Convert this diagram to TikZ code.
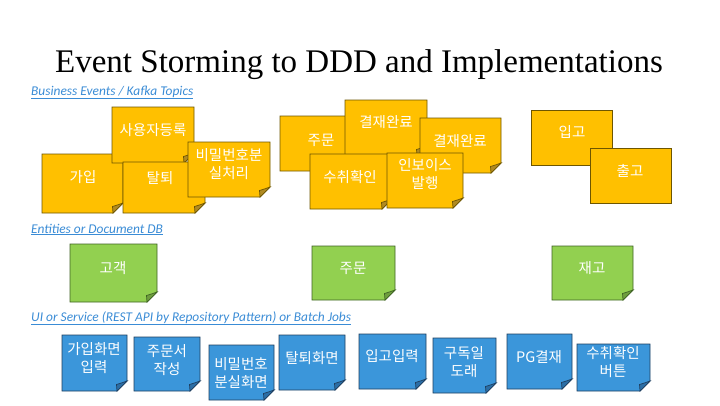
\documentclass[tikz,border=0pt]{standalone}
\usepackage{fontspec}
\setmainfont{Liberation Serif}
\newfontfamily\krfont{Noto Sans CJK KR}
\newfontfamily\labelfont{Carlito}
\definecolor{evfill}{HTML}{FFC000}
\definecolor{evline}{HTML}{6E5600}
\definecolor{evfold}{HTML}{B08A22}
\definecolor{entfill}{HTML}{92D050}
\definecolor{entline}{HTML}{3F6324}
\definecolor{entfold}{HTML}{6E9E3E}
\definecolor{uifill}{HTML}{3B96DA}
\definecolor{uiline}{HTML}{1F3F60}
\definecolor{uifold}{HTML}{2B6EA6}
\definecolor{linkblue}{HTML}{3A8CD6}

% sticky note with a folded bottom-right corner
% #1 name, #2 colour set, #3 left, #4 top, #5 right, #6 bottom, #7 text x, #8 text y, #9 text
\newcommand\foldnote[9]{%
  \filldraw[fill=#2fill, draw=#2line, line width=0.9pt, line join=miter]
    (#3,#4) -- (#5,#4) -- (#5,#6-10) -- (#5-10,#6) -- (#3,#6) -- cycle;
  \filldraw[fill=#2fold, draw=#2line, line width=0.7pt]
    (#5,#6-10) .. controls (#5-4,#6-8.5) .. (#5-10.5,#6-6.5)
    .. controls (#5-10,#6-3) .. (#5-10,#6) -- cycle;
  \node[notetext] (#1) at (#7,#8) {#9};
}
% plain square sticky note
\newcommand\flatnote[9]{%
  \filldraw[fill=#2fill, draw=#2line, line width=0.9pt]
    (#3,#4) rectangle (#5,#6);
  \node[notetext] (#1) at (#7,#8) {#9};
}

\begin{document}
\begin{tikzpicture}[x=1pt,y=-1pt,
  notetext/.style={font=\krfont\fontsize{14.5}{17.5}\selectfont, text=white,
    align=center, inner sep=0pt},
  sectionlabel/.style={font=\labelfont\itshape\fontsize{13.4}{15}\selectfont,
    text=linkblue, anchor=base west, inner sep=0pt},
  titletext/.style={font=\fontsize{33}{40}\selectfont, anchor=base, inner sep=0pt}]
\useasboundingbox[fill=white] (0,0) rectangle (720,405);

\node[titletext] (title) at (359,72) {Event Storming to DDD and Implementations};

% business events
\node[sectionlabel] (evlabel) at (31,95) {\underline{Business Events / Kafka Topics}};
\foldnote{join}{ev}{42}{154}{123}{213}{83}{177}{가입}
\foldnote{signup}{ev}{112}{107}{194}{163}{153}{130}{사용자등록}
\foldnote{leave}{ev}{123}{162}{205}{213}{160}{178}{탈퇴}
\foldnote{pwlost}{ev}{188}{142}{270}{197}{229}{164}{비밀번호분\\실처리}
\foldnote{order}{ev}{280}{116}{362}{171}{321}{140}{주문}
\foldnote{paid}{ev}{345}{100}{427}{156}{386}{122}{결재완료}
\foldnote{paidtwo}{ev}{420}{118}{501}{173}{460}{141}{결재완료}
\foldnote{received}{ev}{310}{154}{392}{209}{350}{177}{수취확인}
\foldnote{invoice}{ev}{387}{153}{463}{208}{425}{174}{인보이스\\발행}
\flatnote{stockin}{ev}{531}{110}{612}{165}{572}{132}{입고}
\flatnote{stockout}{ev}{590}{148}{671}{203}{630}{171}{출고}

% entities
\node[sectionlabel] (entlabel) at (31,233) {\underline{Entities or Document DB}};
\foldnote{customer}{ent}{70}{244}{157}{302}{113}{268}{고객}
\foldnote{orderent}{ent}{312}{246}{395}{300}{353}{268}{주문}
\foldnote{stock}{ent}{552}{246}{633}{300}{592}{268}{재고}

% ui / services
\node[sectionlabel] (uilabel) at (31,321) {\underline{UI or Service (REST API by Repository Pattern) or Batch Jobs}};
\foldnote{joinui}{ui}{62}{335}{127}{391}{94}{358}{가입화면\\입력}
\foldnote{orderui}{ui}{134}{337}{200}{391}{167}{360}{주문서\\작성}
\foldnote{pwui}{ui}{209}{345}{274}{400}{241}{373}{비밀번호\\분실화면}
\foldnote{leaveui}{ui}{279}{335}{345}{390}{312}{358}{탈퇴화면}
\foldnote{stockinui}{ui}{359}{334}{426}{389}{392}{356}{입고입력}
\foldnote{subscribe}{ui}{433}{338}{496}{393}{464}{362}{구독일\\도래}
\foldnote{pgpay}{ui}{507}{334}{572}{389}{539}{357}{PG결재}
\foldnote{receiveui}{ui}{577}{344}{650}{391}{613}{362}{수취확인\\버튼}
\end{tikzpicture}
\end{document}
